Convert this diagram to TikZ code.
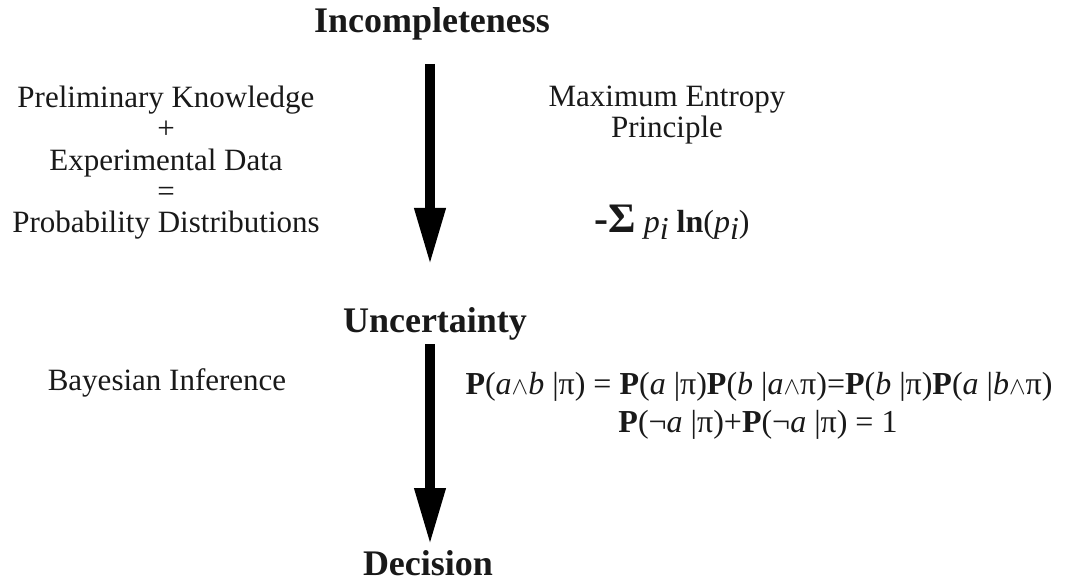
\documentclass[tikz,border=0pt]{standalone}
\usepackage{fontspec}
\setmainfont{Liberation Serif}
\usetikzlibrary{arrows.meta}
\definecolor{ink}{gray}{0.1}
\tikzset{
  title/.style={font=\fontsize{36}{36}\selectfont\bfseries, text=ink, inner sep=0pt, anchor=base},
  plain/.style={font=\fontsize{31}{31.25}\selectfont, text=ink, inner sep=0pt, align=center},
  formula/.style={font=\fontsize{32}{32}\selectfont, text=ink, inner sep=0pt, anchor=base},
  bigarrow/.style={line width=10pt, -{Triangle[length=57pt,width=29pt]}, draw=black}
}
\newcommand{\bP}{\textbf{P}}
\newcommand{\wdg}{\,$\wedge$\,}
\begin{document}
\begin{tikzpicture}[x=1pt,y=-1pt]
\useasboundingbox (0,0) rectangle (1069,583);
\node[title] (inc) at (432,33) {Incompleteness};
\node[title] (unc) at (435,332) {Uncertainty};
\node[title] (dec) at (428,575) {Decision};
\coordinate (a1s) at (430,64);
\coordinate (a1e) at (430,265);
\coordinate (a2s) at (430,344);
\coordinate (a2e) at (430,545);
\draw[bigarrow] (a1s) -- (a1e);
\draw[bigarrow] (a2s) -- (a2e);
\node[plain, anchor=north] (prel) at (166,86) {Preliminary Knowledge\\+\\Experimental Data\\=\\Probability Distributions};
\node[plain, anchor=north] (maxent) at (667,86) {Maximum Entropy\\Principle};
\node[formula] (ent) at (672,233) {{\fontsize{42}{42}\selectfont\bfseries -Σ} \textit{p}\raisebox{-6pt}{\textit{i}} \textbf{ln}(\textit{p}\raisebox{-6pt}{\textit{i}})};
\node[formula] (f1) at (759,394) {\bP(\textit{a}$\wedge$\textit{b} |π) = \bP(\textit{a} |π)\bP(\textit{b} |\textit{a}$\wedge$π)=\bP(\textit{b} |π)\bP(\textit{a} |\textit{b}$\wedge$π)};
\node[formula] (f2) at (758,432) {\bP(¬\textit{a} |π)+\bP(¬\textit{a} |π) = 1};
\node[plain, anchor=base] (bayes) at (167,390) {Bayesian Inference};
\end{tikzpicture}
\end{document}
